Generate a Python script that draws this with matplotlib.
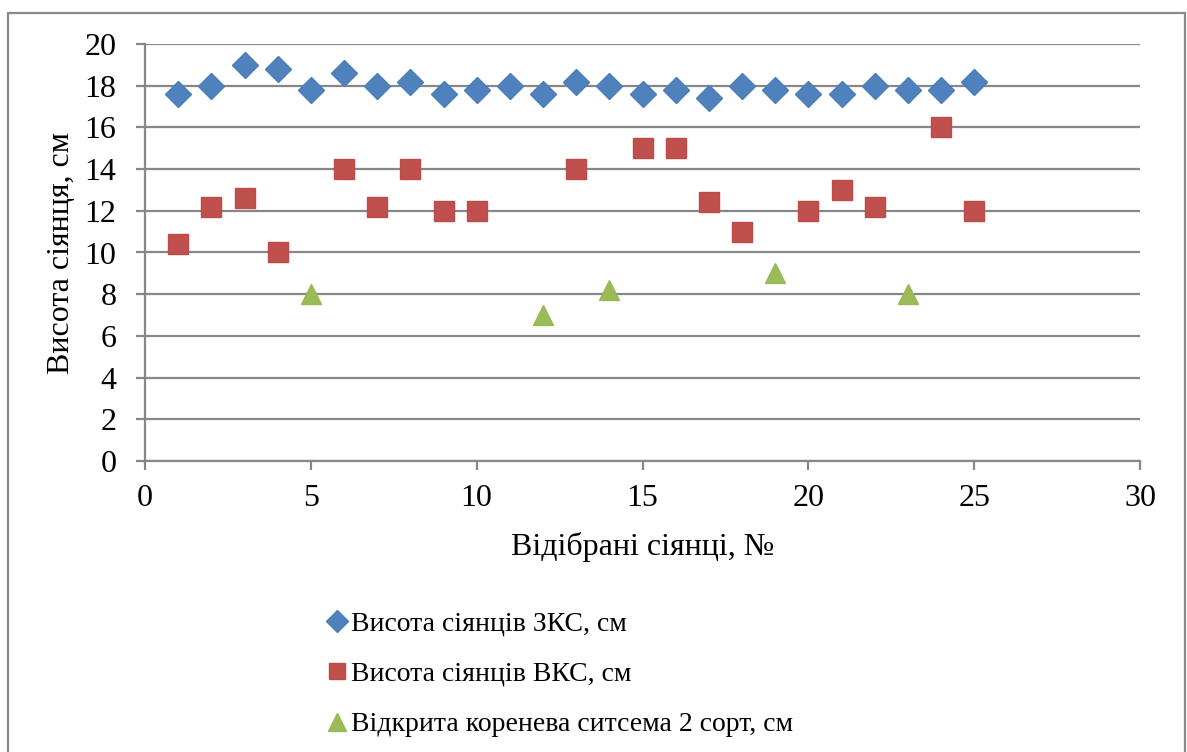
import matplotlib.pyplot as plt
from matplotlib.patches import Rectangle

plt.rcParams['font.family'] = ['Liberation Serif', 'DejaVu Serif']

# Висота сіянців ЗКС
x_zks = list(range(1, 26))
y_zks = [17.6, 18.0, 19.0, 18.8, 17.8, 18.6, 18.0, 18.2, 17.6, 17.8,
         18.0, 17.6, 18.2, 18.0, 17.6, 17.8, 17.4, 18.0, 17.8, 17.6,
         17.6, 18.0, 17.8, 17.8, 18.2]

# Висота сіянців ВКС
x_vks = [1, 2, 3, 4, 6, 7, 8, 9, 10, 13, 15, 16, 17, 18, 20, 21, 22, 24, 25]
y_vks = [10.4, 12.2, 12.6, 10.0, 14.0, 12.2, 14.0, 12.0, 12.0, 14.0,
         15.0, 15.0, 12.4, 11.0, 12.0, 13.0, 12.2, 16.0, 12.0]

# Відкрита коренева система 2 сорт
x_open = [5, 12, 14, 19, 23]
y_open = [8.0, 7.0, 8.2, 9.0, 8.0]

labels = ['Висота сіянців ЗКС, см', 'Висота сіянців ВКС, см',
          'Відкрита коренева ситсема 2 сорт, см']

W, H = 1187, 752
fig = plt.figure(figsize=(W / 100, H / 100), dpi=100)
ax = fig.add_axes([145 / W, 1 - 461 / H, (1140 - 145) / W, (461 - 44) / H])

grid_c = '#878787'
ax.plot(x_zks, y_zks, linestyle='none', marker='D', ms=13, color='#4F81BD',
        mec='#4A7EBB', label=labels[0])
ax.plot(x_vks, y_vks, linestyle='none', marker='s', ms=14, color='#C0504D',
        mec='#BE4B48', label=labels[1])
ax.plot(x_open, y_open, linestyle='none', marker='^', ms=15, color='#9BBB59',
        mec='#98B954', label=labels[2])

ax.set_xlim(0, 30)
ax.set_ylim(0, 20)
ax.set_xticks(range(0, 31, 5))
ax.set_yticks(range(0, 21, 2))
ax.yaxis.grid(True, color=grid_c, linewidth=1.6)
ax.set_axisbelow(True)
for s in ['top', 'right']:
    ax.spines[s].set_visible(False)
for s in ['left', 'bottom']:
    ax.spines[s].set_color(grid_c)
    ax.spines[s].set_linewidth(1.6)
ax.tick_params(axis='both', colors=grid_c, labelcolor='black', labelsize=23,
               length=6.5, width=1.6, direction='out')
ax.tick_params(axis='x', pad=10)
ax.tick_params(axis='y', pad=14)

ax.set_xlabel('Відібрані сіянці, №', fontsize=23, labelpad=14)
ax.set_ylabel('Висота сіянця, см', fontsize=23, labelpad=6)

fig.legend(loc='upper left', bbox_to_anchor=(316 / W, 1 - 600 / H),
           frameon=False, fontsize=20, handlelength=0.7, handletextpad=0.15,
           labelspacing=0.9, borderaxespad=0, markerscale=0.85)

fig.patches.append(Rectangle((8 / W, -0.1), (1185 - 8) / W, 1.1 - 13 / H,
                             transform=fig.transFigure, fill=False,
                             edgecolor='#898989', linewidth=1.6))

fig.savefig('out.png', dpi=100)
